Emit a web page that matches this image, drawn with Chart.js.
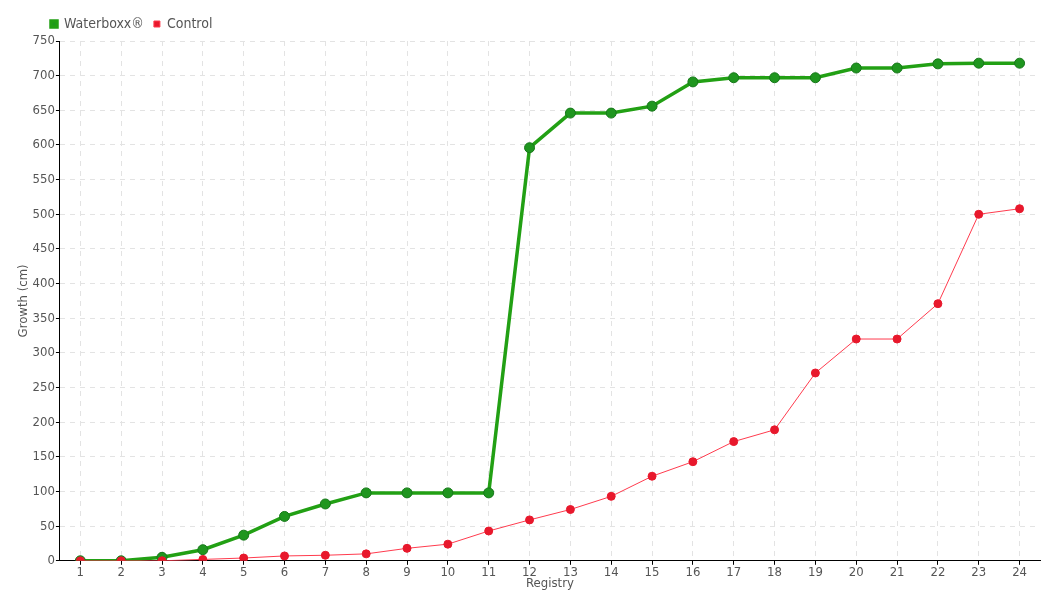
<!DOCTYPE html>
<html>
<head>
<meta charset="utf-8">
<script src="https://cdn.jsdelivr.net/npm/chart.js@4"></script>
<style>
    html, body { margin: 0; padding: 0; background: #fff; }
    #wrap { width: 1060px; height: 600px; position: relative; }
</style>
</head>
<body>
<div id="wrap"><canvas id="growth"></canvas></div>
<script>
const registry = ['1', '2', '3', '4', '5', '6', '7', '8', '9', '10', '11', '12',
    '13', '14', '15', '16', '17', '18', '19', '20', '21', '22', '23', '24'];
const waterboxx = [0, 0, 5, 16, 37, 64, 82, 98, 98, 98, 98, 596,
    646, 646, 656, 691, 697, 697, 697, 711, 711, 717, 718, 718];
const control = [0, 0, 0, 2, 4, 7, 8, 10, 18, 24, 43, 59,
    74, 93, 122, 143, 172, 189, 271, 320, 320, 371, 500, 508];
const yTicks = { min: 0, max: 750, step: 50 };

const fontFamily = "'DejaVu Sans Condensed', 'Liberation Sans Narrow', sans-serif";
Chart.defaults.font.family = fontFamily;
Chart.defaults.font.size = 13;
Chart.defaults.color = '#555';

// push the legend a bit to the right, like the original
const legendShift = {
    id: 'legendShift',
    afterLayout(chart) {
        chart.legend.left += 25;
    }
};

const ctx = document.getElementById('growth').getContext('2d');
new Chart(ctx, {
    type: 'line',
    data: {
        labels: registry,
        datasets: [
            {
                label: 'Waterboxx®',
                data: waterboxx,
                order: 1,
                borderColor: '#22a014',
                backgroundColor: '#1f961f',
                pointBackgroundColor: '#1f961f',
                pointBorderColor: '#17781a',
                pointBorderWidth: 1,
                borderWidth: 3.5,
                pointRadius: 5,
                fill: false,
                tension: 0
            },
            {
                label: 'Control',
                data: control,
                order: 0,
                borderColor: '#ff3b4e',
                backgroundColor: '#e8182c',
                pointBackgroundColor: '#e8182c',
                pointBorderColor: '#e8182c',
                pointBorderWidth: 1,
                borderWidth: 1,
                pointRadius: 4,
                fill: false,
                tension: 0
            }
        ]
    },
    options: {
        responsive: true,
        maintainAspectRatio: false,
        animation: false,
        layout: { padding: { left: 16, right: 20, top: 7, bottom: 9 } },
        scales: {
            x: {
                offset: true,
                grid: {
                    offset: false,
                    color: '#e3e3e3',
                    tickColor: '#000',
                    tickLength: 4
                },
                border: { color: '#000', width: 1, dash: [5, 5] },
                ticks: { padding: 0, maxRotation: 0 },
                title: { display: true, text: 'Registry', padding: { top: -5, bottom: 0 } }
            },
            y: {
                min: yTicks.min,
                max: yTicks.max,
                grid: {
                    color: '#e3e3e3',
                    tickColor: '#000',
                    tickLength: 4
                },
                border: { color: '#000', width: 1, dash: [5, 5] },
                ticks: { stepSize: yTicks.step, padding: 1 },
                title: { display: true, text: 'Growth (cm)', padding: { top: 0, bottom: 0 } }
            }
        },
        plugins: {
            legend: {
                position: 'top',
                align: 'start',
                labels: {
                    boxWidth: 6,
                    boxHeight: 6,
                    padding: 10,
                    font: { size: 14 },
                    sort: (a, b) => a.datasetIndex - b.datasetIndex
                }
            },
            tooltip: { enabled: false }
        }
    },
    plugins: [legendShift]
});
</script>
</body>
</html>
